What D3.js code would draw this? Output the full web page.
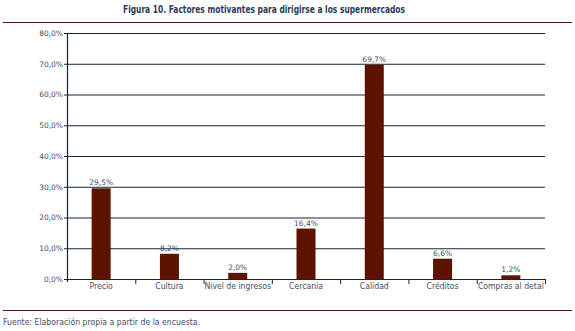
<!DOCTYPE html>
<html><head><meta charset="utf-8">
<script src="https://cdn.jsdelivr.net/npm/d3@7"></script>
<style>body{margin:0;background:#fff}svg{display:block}</style>
</head><body>
<svg id="c" width="575" height="331"></svg>
<script>
const categories = ["Precio","Cultura","Nivel de ingresos","Cercanía","Calidad","Créditos","Compras al detal"];
const values = [29.5, 8.2, 2.0, 16.4, 69.7, 6.6, 1.2];
const valueLabels = ["29,5%","8,2%","2,0%","16,4%","69,7%","6,6%","1,2%"];
const yTicks = [0,10,20,30,40,50,60,70,80];
const title = "Figura 10. Factores motivantes para dirigirse a los supermercados";
const source = "Fuente: Elaboración propia a partir de la encuesta.";

const svg = d3.select("#c");
const L = 67, R = 545, T = 33, B = 279;
const textCol = "#3f4d68", axisCol = "#13253a", barCol = "#5c1300", ruleCol = "#4a1a10";
const condensed = "'DejaVu Sans Condensed',sans-serif";

svg.append("text").attr("x", 264).attr("y", 13).attr("text-anchor","middle")
  .attr("font-family", condensed).attr("font-size", 11).attr("font-weight","bold")
  .attr("textLength", 282).attr("lengthAdjust","spacingAndGlyphs")
  .attr("fill", "#2c3b58").text(title);
svg.append("line").attr("x1",3).attr("x2",572).attr("y1",22.5).attr("y2",22.5)
  .attr("stroke", ruleCol).attr("stroke-width",1.2);
svg.append("line").attr("x1",3).attr("x2",572).attr("y1",310.5).attr("y2",310.5)
  .attr("stroke", ruleCol).attr("stroke-width",1.2);
svg.append("text").attr("x",3).attr("y",325)
  .attr("font-family", condensed).attr("font-size", 8.8)
  .attr("textLength", 197).attr("lengthAdjust","spacingAndGlyphs")
  .attr("fill", textCol).text(source);

const y = d3.scaleLinear().domain([0,80]).range([B,T]);
const x = d3.scaleBand().domain(categories).range([L,R]).padding(0);

// gridlines + y axis
const yAxis = d3.axisLeft(y).tickValues(yTicks).tickSize(-(R-L))
  .tickFormat(d => d3.format(".1f")(d).replace(".",",") + "%").tickPadding(5);
const gy = svg.append("g").attr("transform",`translate(${L},0)`).call(yAxis);
gy.select(".domain").remove();
gy.selectAll(".tick line").attr("stroke", axisCol).attr("stroke-width",1).attr("x1",-3);
gy.selectAll(".tick text").attr("font-family","'DejaVu Sans',Verdana,sans-serif")
  .attr("font-size",7.5).attr("fill",textCol).attr("x",-4);
svg.append("line").attr("x1",L+0.5).attr("x2",L+0.5).attr("y1",T).attr("y2",B+3)
  .attr("stroke",axisCol).attr("stroke-width",1.2);

// bars
const bw = 19;
svg.append("g").selectAll("rect").data(values).join("rect")
  .attr("x",(d,i)=>x(categories[i])+x.bandwidth()/2-bw/2)
  .attr("width",bw)
  .attr("y",d=>y(d)).attr("height",d=>B-y(d))
  .attr("fill",barCol);
svg.append("g").selectAll("text").data(values).join("text")
  .attr("x",(d,i)=>x(categories[i])+x.bandwidth()/2)
  .attr("y",d=>y(d)-3).attr("text-anchor","middle")
  .attr("font-family","'DejaVu Sans',Verdana,sans-serif").attr("font-size",7.5)
  .attr("fill",textCol).text((d,i)=>valueLabels[i]);

// x axis
svg.append("line").attr("x1",L).attr("x2",R).attr("y1",B+0.5).attr("y2",B+0.5)
  .attr("stroke",axisCol).attr("stroke-width",1.2);
const bounds = categories.map(c=>x(c)).concat([R]);
svg.append("g").selectAll("line").data(bounds.slice(1)).join("line")
  .attr("x1",d=>d+0.5).attr("x2",d=>d+0.5).attr("y1",B).attr("y2",B+5)
  .attr("stroke",axisCol).attr("stroke-width",1);
svg.append("g").selectAll("text").data(categories).join("text")
  .attr("x",d=>x(d)+x.bandwidth()/2).attr("y",B+10)
  .attr("text-anchor","middle").attr("font-family",condensed).attr("font-size",8.6)
  .attr("fill",textCol).text(d=>d);
</script>
</body></html>
